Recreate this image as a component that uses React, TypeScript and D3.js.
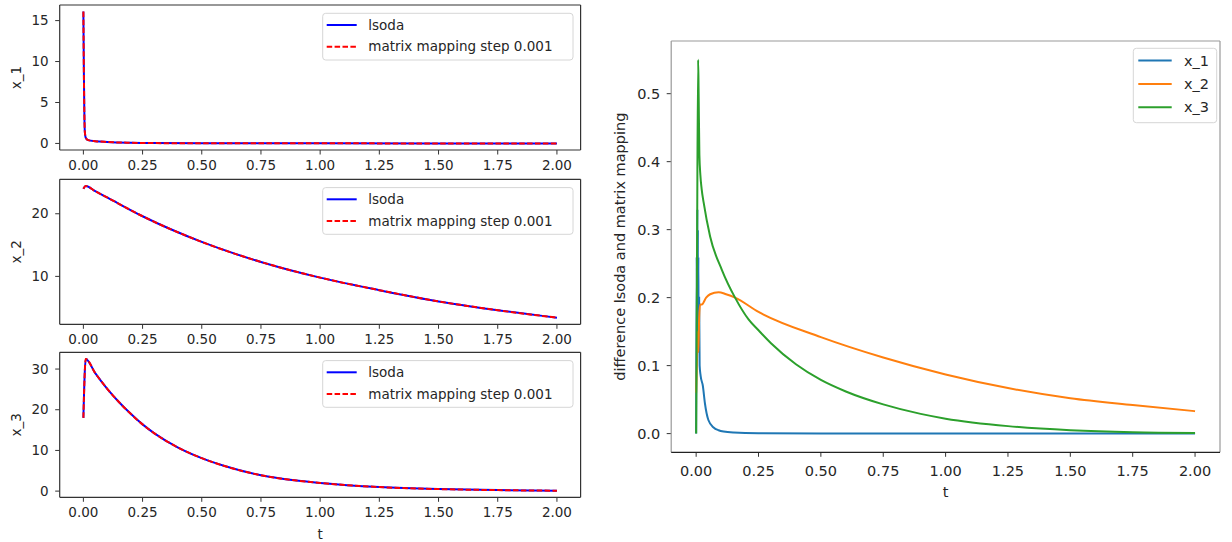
import * as d3 from "d3";
import { useEffect, useRef } from "react";

const svgWidth = 1232
const svgHeight = 542

// left column: lsoda vs matrix mapping
const tX1 = [0, 0.002, 0.004, 0.006, 0.01, 0.02, 0.05, 0.1, 0.2, 0.3, 0.5, 1.0, 1.5, 2.0]
const lsodaX1 = [16.1, 9.0, 4.0, 1.5, 0.7, 0.4, 0.28, 0.18, 0.08, 0.04, 0.02, 0.01, 0.005, 0.003]
const matrixX1 = [16.1, 9.0, 4.0, 1.5, 0.7, 0.4, 0.28, 0.18, 0.08, 0.04, 0.02, 0.01, 0.005, 0.003]

const tX2 = [0, 0.01, 0.05, 0.1, 0.25, 0.5, 0.75, 1.0, 1.25, 1.5, 1.75, 2.0]
const lsodaX2 = [24.0, 24.45, 23.6, 22.6, 19.6, 15.5, 12.3, 9.8, 7.8, 6.0, 4.6, 3.4]
const matrixX2 = [24.0, 24.45, 23.6, 22.6, 19.6, 15.5, 12.3, 9.8, 7.8, 6.0, 4.6, 3.4]

const tX3 = [0, 0.01, 0.05, 0.1, 0.15, 0.2, 0.25, 0.3, 0.4, 0.5, 0.6, 0.75, 0.9, 1.0, 1.25, 1.5, 1.75, 2.0]
const lsodaX3 = [18, 32.5, 29.0, 25.2, 21.9, 19.0, 16.4, 14.2, 10.7, 8.1, 6.1, 3.9, 2.6, 2.0, 1.0, 0.5, 0.25, 0.1]
const matrixX3 = [18, 32.5, 29.0, 25.2, 21.9, 19.0, 16.4, 14.2, 10.7, 8.1, 6.1, 3.9, 2.6, 2.0, 1.0, 0.5, 0.25, 0.1]

// right: difference lsoda and matrix mapping
const tDiff1 = [0, 0.002, 0.004, 0.005, 0.006, 0.007, 0.008, 0.009, 0.01, 0.012, 0.014, 0.018, 0.027, 0.035, 0.049, 0.07, 0.09, 0.11, 0.15, 0.25, 0.5, 1.0, 2.0]
const diffX1 = [0, 0.26, 0.12, 0.33, 0.15, 0.3, 0.12, 0.26, 0.14, 0.2, 0.1, 0.085, 0.07, 0.045, 0.02, 0.009, 0.005, 0.003, 0.0015, 0.0005, 0.0002, 0.0001, 0]

const tDiff2 = [0, 0.003, 0.006, 0.009, 0.012, 0.016, 0.023, 0.04, 0.056, 0.09, 0.12, 0.156, 0.25, 0.5, 0.75, 1.0, 1.25, 1.5, 1.75, 2.0]
const diffX2 = [0.06, 0.1, 0.15, 0.12, 0.17, 0.19, 0.19, 0.2, 0.205, 0.208, 0.205, 0.2, 0.179, 0.142, 0.112, 0.087, 0.067, 0.052, 0.042, 0.033]

const tDiff3 = [0, 0.001, 0.004, 0.008, 0.01, 0.013, 0.017, 0.022, 0.03, 0.056, 0.103, 0.156, 0.21, 0.25, 0.3, 0.4, 0.5, 0.6, 0.75, 0.9, 1.0, 1.25, 1.5, 1.75, 2.0]
const diffX3 = [0, 0.06, 0.3, 0.55, 0.5, 0.41, 0.38, 0.36, 0.34, 0.29, 0.241, 0.2, 0.168, 0.152, 0.133, 0.102, 0.079, 0.062, 0.043, 0.029, 0.022, 0.011, 0.005, 0.002, 0.001]

const tTicks = [0, 0.25, 0.5, 0.75, 1.0, 1.25, 1.5, 1.75, 2.0]
const yTicksX1 = [0, 5, 10, 15]
const yTicksX2 = [10, 20]
const yTicksX3 = [0, 10, 20, 30]
const yTicksDiff = [0, 0.1, 0.2, 0.3, 0.4, 0.5]

const leftLabels = ["x_1", "x_2", "x_3"]
const leftLegend = ["lsoda", "matrix mapping step 0.001"]
const diffLegend = ["x_1", "x_2", "x_3"]
const diffColors = ["#1f77b4", "#ff7f0e", "#2ca02c"]

const font = "DejaVu Sans, sans-serif"
const textColor = "#262626"

// matplotlib style 5% margins
const padded = (lo: number, hi: number) => {
    const r = hi - lo
    return [lo - 0.05 * r, hi + 0.05 * r]
}

const toPoints = (ts: number[], vs: number[]) => ts.map((t, i) => [t, vs[i]] as [number, number])

export default function App() {
    const svgRef = useRef<SVGSVGElement>(null)

    useEffect(() => {
        const svg = d3.select(svgRef.current)
        svg.selectAll("*").remove()

        const drawAxes = (g: any, x: any, y: any, box: any, yTicks: number[], yFmt: (d: number) => string, fs: number, xLabelOffset: number, frame: string[]) => {
            // ticks
            g.selectAll(".xt").data(tTicks).join("line")
                .attr("x1", (d: number) => x(d)).attr("x2", (d: number) => x(d))
                .attr("y1", box.y1).attr("y2", box.y1 + 4.5)
                .attr("stroke", "#333").attr("stroke-width", 1)
            g.selectAll(".xl").data(tTicks).join("text")
                .attr("x", (d: number) => x(d)).attr("y", box.y1 + xLabelOffset)
                .attr("dy", "0.71em").attr("text-anchor", "middle")
                .attr("font-size", fs).attr("font-family", font).attr("fill", textColor)
                .text((d: number) => d3.format(".2f")(d))
            g.selectAll(".yt").data(yTicks).join("line")
                .attr("x1", box.x0 - 4.5).attr("x2", box.x0)
                .attr("y1", (d: number) => y(d)).attr("y2", (d: number) => y(d))
                .attr("stroke", "#333").attr("stroke-width", 1)
            g.selectAll(".yl").data(yTicks).join("text")
                .attr("x", box.x0 - 11).attr("y", (d: number) => y(d))
                .attr("dy", "0.35em").attr("text-anchor", "end")
                .attr("font-size", fs).attr("font-family", font).attr("fill", textColor)
                .text(yFmt)
            // frame: left, top, right, bottom
            const sides = [
                [box.x0, box.y0, box.x0, box.y1],
                [box.x0, box.y0, box.x1, box.y0],
                [box.x1, box.y0, box.x1, box.y1],
                [box.x0, box.y1, box.x1, box.y1],
            ]
            sides.forEach((s, i) => {
                g.append("line")
                    .attr("x1", s[0]).attr("y1", s[1]).attr("x2", s[2]).attr("y2", s[3])
                    .attr("stroke", frame[i]).attr("stroke-width", 1.2)
            })
        }

        // ---------- left column ----------
        const leftBox = { x0: 59.7, x1: 580.6 }
        const panelTops = [5, 179.3, 352.3]
        const panelH = 145
        const leftSeries = [
            { t: tX1, a: lsodaX1, b: matrixX1, ticks: yTicksX1 },
            { t: tX2, a: lsodaX2, b: matrixX2, ticks: yTicksX2 },
            { t: tX3, a: lsodaX3, b: matrixX3, ticks: yTicksX3 },
        ]
        const xLeft = d3.scaleLinear(padded(0, 2), [leftBox.x0, leftBox.x1])

        leftSeries.forEach((s, i) => {
            const box = { x0: leftBox.x0, x1: leftBox.x1, y0: panelTops[i], y1: panelTops[i] + panelH }
            const all = s.a.concat(s.b)
            const y = d3.scaleLinear(padded(d3.min(all)!, d3.max(all)!), [box.y1, box.y0])
            const g = svg.append("g")

            const clipId = `clip-left-${i}`
            g.append("clipPath").attr("id", clipId).append("rect")
                .attr("x", box.x0).attr("y", box.y0).attr("width", box.x1 - box.x0).attr("height", box.y1 - box.y0)

            const line = d3.line<[number, number]>().x(d => xLeft(d[0])).y(d => y(d[1])).curve(d3.curveMonotoneX)
            g.append("path").attr("clip-path", `url(#${clipId})`)
                .attr("d", line(toPoints(s.t, s.a))!)
                .attr("fill", "none").attr("stroke", "#0000ff").attr("stroke-width", 2)
            g.append("path").attr("clip-path", `url(#${clipId})`)
                .attr("d", line(toPoints(s.t, s.b))!)
                .attr("fill", "none").attr("stroke", "#ff0000").attr("stroke-width", 2)
                .attr("stroke-dasharray", "5.5,2.4")

            drawAxes(g, xLeft, y, box, s.ticks, d => d3.format("d")(d), 13.5, 10.5, ["#333", "#333", "#333", "#333"])

            // y label
            g.append("text")
                .attr("transform", `translate(17, ${(box.y0 + box.y1) / 2}) rotate(-90)`)
                .attr("dy", "0.3em").attr("text-anchor", "middle")
                .attr("font-size", 13.5).attr("font-family", font).attr("fill", textColor)
                .text(leftLabels[i])

            // legend
            const lg = g.append("g")
            const lx = 322.7, ly = box.y0 + 8.3
            lg.append("rect").attr("x", lx).attr("y", ly).attr("width", 250.3).attr("height", 46.7)
                .attr("rx", 3).attr("fill", "#fff").attr("fill-opacity", 0.8)
                .attr("stroke", "#d6d6d6").attr("stroke-width", 1)
            leftLegend.forEach((name, j) => {
                const ry = ly + 11.7 + j * 21.7
                lg.append("line").attr("x1", lx + 4).attr("x2", lx + 34).attr("y1", ry).attr("y2", ry)
                    .attr("stroke", j === 0 ? "#0000ff" : "#ff0000").attr("stroke-width", 2)
                    .attr("stroke-dasharray", j === 0 ? null : "5.5,2.4")
                lg.append("text").attr("x", lx + 45.6).attr("y", ry).attr("dy", "0.35em")
                    .attr("font-size", 13.5).attr("font-family", font).attr("fill", textColor)
                    .text(name)
            })

            if (i === 2) {
                g.append("text").attr("x", (box.x0 + box.x1) / 2).attr("y", 539)
                    .attr("text-anchor", "middle")
                    .attr("font-size", 13.5).attr("font-family", font).attr("fill", textColor)
                    .text("t")
            }
        })

        // ---------- right panel ----------
        const rBox = { x0: 671.2, x1: 1220, y0: 41, y1: 452.3 }
        const xR = d3.scaleLinear(padded(0, 2), [rBox.x0, rBox.x1])
        const allDiff = diffX1.concat(diffX2, diffX3)
        const yR = d3.scaleLinear(padded(d3.min(allDiff)!, d3.max(allDiff)!), [rBox.y1, rBox.y0])
        const rg = svg.append("g")
        rg.append("clipPath").attr("id", "clip-right").append("rect")
            .attr("x", rBox.x0).attr("y", rBox.y0).attr("width", rBox.x1 - rBox.x0).attr("height", rBox.y1 - rBox.y0)

        const lineR = d3.line<[number, number]>().x(d => xR(d[0])).y(d => yR(d[1])).curve(d3.curveMonotoneX)
        const diffSeries = [toPoints(tDiff1, diffX1), toPoints(tDiff2, diffX2), toPoints(tDiff3, diffX3)]
        diffSeries.forEach((pts, i) => {
            rg.append("path").attr("clip-path", "url(#clip-right)")
                .attr("d", lineR(pts)!)
                .attr("fill", "none").attr("stroke", diffColors[i]).attr("stroke-width", 2)
        })

        drawAxes(rg, xR, yR, rBox, yTicksDiff, d => d3.format(".1f")(d), 14.5, 13, ["#999", "#999", "#999", "#222"])

        rg.append("text")
            .attr("transform", `translate(620, ${(rBox.y0 + rBox.y1) / 2}) rotate(-90)`)
            .attr("dy", "0.35em").attr("text-anchor", "middle")
            .attr("font-size", 14.5).attr("font-family", font).attr("fill", textColor)
            .text("difference lsoda and matrix mapping")
        rg.append("text").attr("x", (rBox.x0 + rBox.x1) / 2).attr("y", 497)
            .attr("text-anchor", "middle")
            .attr("font-size", 14.5).attr("font-family", font).attr("fill", textColor)
            .text("t")

        const rl = rg.append("g")
        const rlx = 1133.3, rly = 48.3
        rl.append("rect").attr("x", rlx).attr("y", rly).attr("width", 83.4).attr("height", 74.4)
            .attr("rx", 3).attr("fill", "#fff").attr("fill-opacity", 0.8)
            .attr("stroke", "#d6d6d6").attr("stroke-width", 1)
        diffLegend.forEach((name, j) => {
            const ry = rly + 12.3 + j * 23.3
            rl.append("line").attr("x1", rlx + 5).attr("x2", rlx + 38.4).attr("y1", ry).attr("y2", ry)
                .attr("stroke", diffColors[j]).attr("stroke-width", 2)
            rl.append("text").attr("x", rlx + 50.7).attr("y", ry).attr("dy", "0.35em")
                .attr("font-size", 14.5).attr("font-family", font).attr("fill", textColor)
                .text(name)
        })
    }, [])

    return <svg ref={svgRef} width={svgWidth} height={svgHeight}
        style={{ position: "absolute", left: 0, top: 0, background: "#fff" }}
        xmlns="http://www.w3.org/2000/svg" />
}
